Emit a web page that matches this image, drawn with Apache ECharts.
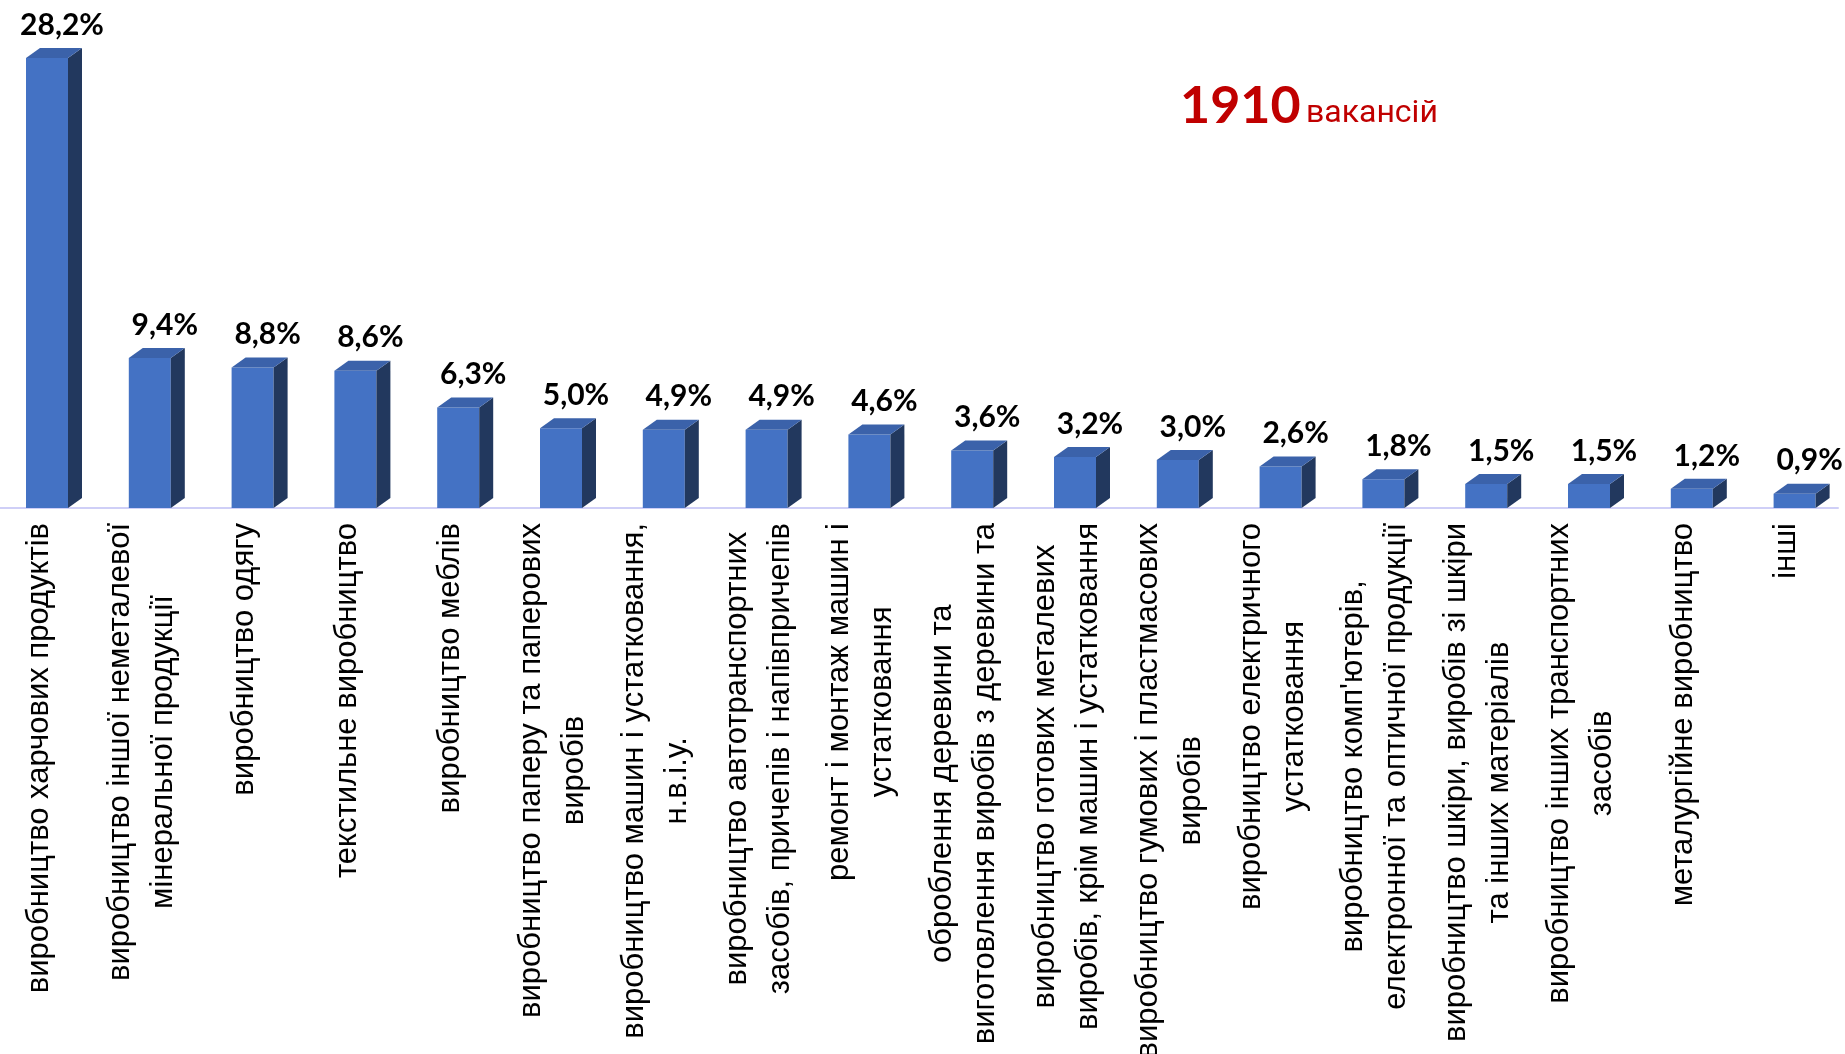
<!DOCTYPE html>
<html>
<head>
<meta charset="utf-8">
<script src="https://cdn.jsdelivr.net/npm/echarts/dist/echarts.min.js"></script>
<style>
html,body{margin:0;padding:0;background:#ffffff;}
#c{width:1845px;height:1054px;}
</style>
</head>
<body>
<div id="c"></div>
<script>
// ---- data ----
const categories = [
  'виробництво харчових продуктів',
  'виробництво іншої неметалевої\nмінеральної продукції',
  'виробництво одягу',
  'текстильне виробництво',
  'виробництво меблів',
  'виробництво паперу та паперових\nвиробів',
  'виробництво машин і устатковання,\nн.в.і.у.',
  'виробництво автотранспортних\nзасобів, причепів і напівпричепів',
  'ремонт і монтаж машин і\nустатковання',
  'оброблення деревини та\nвиготовлення виробів з деревини та',
  'виробництво готових металевих\nвиробів, крім машин і устатковання',
  'виробництво гумових і пластмасових\nвиробів',
  'виробництво електричного\nустатковання',
  "виробництво комп'ютерів,\nелектронної та оптичної продукції",
  'виробництво шкіри, виробів зі шкіри\nта інших матеріалів',
  'виробництво інших транспортних\nзасобів',
  'металургійне виробництво',
  'інші'
];
const shares = [28.2, 9.4, 8.8, 8.6, 6.3, 5.0, 4.9, 4.9, 4.6, 3.6, 3.2, 3.0, 2.6, 1.8, 1.5, 1.5, 1.2, 0.9];
const totalText = '1910';
const totalWord = 'вакансій';

// ---- chart ----
const chart = echarts.init(document.getElementById('c'), null, {renderer: 'canvas'});

function fmtPct(v) {
  return v.toFixed(1).replace('.', ',') + '%';
}

const FRONT_L = 13, FRONT_W = 42, DEPTH_X = 14, DEPTH_Y = 10;

const option = {
  animation: false,
  backgroundColor: '#ffffff',
  title: [
    {
      text: totalText, left: 1180, top: 80, padding: 0,
      textStyle: {fontFamily: 'Lato', fontWeight: 'bold', fontSize: 52, color: '#C00000'}
    },
    {
      text: totalWord, left: 1306, top: 98, padding: 0,
      textStyle: {fontFamily: 'Roboto', fontWeight: 'normal', fontSize: 32, color: '#C00000'}
    }
  ],
  grid: {left: -12.4, right: 7, top: 29.2, bottom: 546, containLabel: false, outerBoundsMode: 'none'},
  xAxis: {
    type: 'category',
    data: categories,
    offset: 9,
    axisLine: {show: true, lineStyle: {color: '#CFCFF7', width: 2}},
    axisTick: {show: false},
    splitLine: {show: false},
    axisLabel: {
      interval: 0,
      rotate: 90,
      margin: 6,
      color: '#000000',
      fontFamily: 'Liberation Sans',
      fontSize: 31,
      lineHeight: 43,
      formatter: function (v) {
        return v.split('\n').map(function (s) { return '{c|' + s + '}'; }).join('\n');
      },
      rich: {
        c: {align: 'center', fontFamily: 'Liberation Sans', fontSize: 31, lineHeight: 43, color: '#000000'}
      }
    }
  },
  yAxis: {
    type: 'value', min: 0, max: 30, show: false,
    splitLine: {show: false}
  },
  series: [{
    type: 'custom',
    data: shares.map(function (v, i) { return [i, v]; }),
    encode: {x: 0, y: 1},
    renderItem: function (params, api) {
      const i = api.value(0), v = api.value(1);
      const top = api.coord([i, v]);
      const base = api.coord([i, 0]);
      const cx = top[0];
      const L = cx - FRONT_L, R = L + FRONT_W;
      const yT = top[1], yB = base[1];
      return {
        type: 'group',
        children: [
          {type: 'polygon', shape: {points: [[L, yT], [R, yT], [R, yB], [L, yB]]},
           style: {fill: '#4472C4'}},
          {type: 'polygon', shape: {points: [[R, yT], [R + DEPTH_X, yT - DEPTH_Y], [R + DEPTH_X, yB - DEPTH_Y], [R, yB]]},
           style: {fill: '#22385E'}},
          {type: 'polygon', shape: {points: [[L, yT], [L + DEPTH_X, yT - DEPTH_Y], [R + DEPTH_X, yT - DEPTH_Y], [R, yT]]},
           style: {fill: '#3B62AA'}},
          {type: 'text',
           style: {text: fmtPct(v), x: cx + 23, y: yT - 18, align: 'center', verticalAlign: 'bottom',
                   font: 'bold 30px Lato', fill: '#000000'}}
        ]
      };
    }
  }]
};

chart.setOption(option);
</script>
</body>
</html>
